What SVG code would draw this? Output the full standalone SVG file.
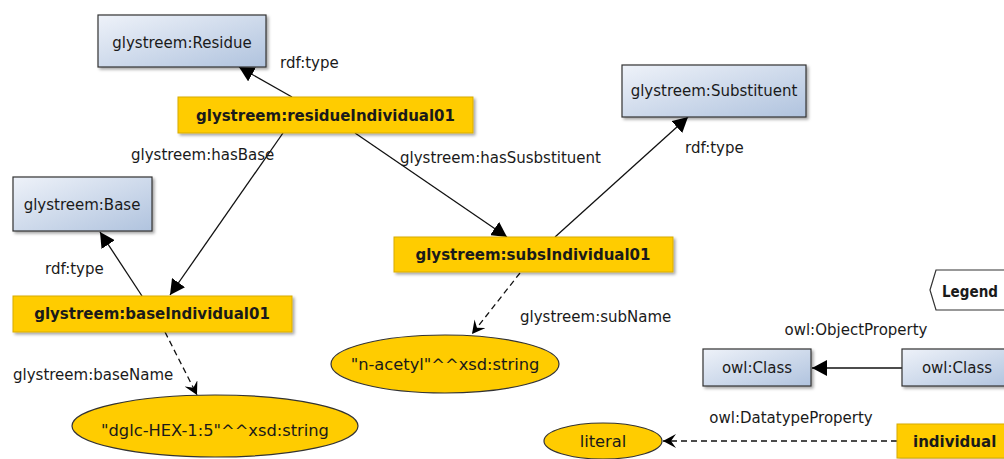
<svg xmlns="http://www.w3.org/2000/svg" width="1004" height="459" viewBox="0 0 1004 459">
<style>
text{font-family:"DejaVu Sans","Liberation Sans",sans-serif;font-size:15px;fill:#1a1a1a}
.b{font-weight:bold}
.m{text-anchor:middle}
.lt{font-size:16.3px}
.cls{fill:url(#cg);stroke:#333;stroke-width:1.2;filter:url(#sh)}
.ind{fill:#FFCC00;stroke:#D8AC00;stroke-width:1;filter:url(#sh)}
.lit{fill:#FFCC00;stroke:#333;stroke-width:1.2}
.e{stroke:#111;stroke-width:1.3;fill:none;marker-end:url(#ah)}
.d{stroke:#111;stroke-width:1.3;fill:none;stroke-dasharray:6 4;marker-end:url(#oh)}
</style>
<defs>
<linearGradient id="cg" x1="0" y1="0" x2="1" y2="1">
<stop offset="0" stop-color="#EEF2F9"/>
<stop offset="1" stop-color="#B0C3DE"/>
</linearGradient>
<filter id="sh" x="-10%" y="-20%" width="130%" height="150%">
<feDropShadow dx="2" dy="2" stdDeviation="1.5" flood-color="#000" flood-opacity="0.35"/>
</filter>
<marker id="ah" markerUnits="userSpaceOnUse" markerWidth="16" markerHeight="16" refX="15" refY="8" orient="auto">
<path d="M0,0 L15,8 L0,16 z" fill="#000"/>
</marker>
<marker id="oh" markerUnits="userSpaceOnUse" markerWidth="14" markerHeight="14" refX="13" refY="7" orient="auto">
<path d="M0,0 L13,7 L0,14 L5,7 z" fill="#000"/>
</marker>
</defs>
<g id="connectors">
<line class="e" x1="292" y1="97" x2="239" y2="67"/>
<line class="e" x1="283" y1="133" x2="170" y2="295"/>
<line class="e" x1="355" y1="133" x2="507" y2="237"/>
<line class="e" x1="555" y1="237" x2="688" y2="117"/>
<line class="e" x1="142" y1="296" x2="100" y2="232"/>
<line class="d" x1="520" y1="273" x2="472" y2="334"/>
<line class="d" x1="165" y1="332" x2="197" y2="395"/>
<line class="e" x1="902" y1="368" x2="812" y2="368"/>
<line class="d" x1="897" y1="441" x2="663" y2="441"/>
<text x="280" y="68">rdf:type</text>
<text x="131" y="160">glystreem:hasBase</text>
<text x="400" y="163">glystreem:hasSusbstituent</text>
<text x="685" y="153">rdf:type</text>
<text x="45" y="274">rdf:type</text>
<text x="520" y="322">glystreem:subName</text>
<text x="13" y="380">glystreem:baseName</text>
<text x="856" y="335" class="m">owl:ObjectProperty</text>
<text x="791" y="423" class="m">owl:DatatypeProperty</text>
</g>
<g id="residue"><rect class="cls" x="98" y="15" width="168" height="52"/><text class="m" x="182" y="48">glystreem:Residue</text></g>
<g id="residueIndividual01"><rect class="ind" x="178" y="97" width="295" height="36"/><text class="b m" x="325.5" y="121">glystreem:residueIndividual01</text></g>
<g id="base"><rect class="cls" x="13" y="177" width="139" height="54"/><text class="m" x="82" y="210">glystreem:Base</text></g>
<g id="baseIndividual01"><rect class="ind" x="13" y="296" width="279" height="36"/><text class="b m" x="152" y="319">glystreem:baseIndividual01</text></g>
<g id="substituent"><rect class="cls" x="622" y="65" width="184" height="52"/><text class="m" x="714" y="96">glystreem:Substituent</text></g>
<g id="subsIndividual01"><rect class="ind" x="394" y="237" width="279" height="35"/><text class="b m" x="533" y="260">glystreem:subsIndividual01</text></g>
<g id="nacetyl"><ellipse class="lit" cx="445" cy="364" rx="114" ry="29"/><text class="m lt" x="445" y="370">"n-acetyl"^^xsd:string</text></g>
<g id="dglc"><ellipse class="lit" cx="215" cy="426" rx="143" ry="31"/><text class="m lt" x="215" y="436">"dglc-HEX-1:5"^^xsd:string</text></g>
<g id="legend"><polygon points="930,290 936,270 1010,270 1010,310 936,310" fill="#fff" stroke="#333" stroke-width="1.2"/><text class="b" x="942" y="297" textLength="56" lengthAdjust="spacingAndGlyphs">Legend</text></g>
<g id="legendClassA"><rect class="cls" x="703" y="349" width="108" height="37"/><text class="m" x="757" y="373">owl:Class</text></g>
<g id="legendClassB"><rect class="cls" x="902" y="349" width="110" height="37"/><text class="m" x="957" y="373">owl:Class</text></g>
<g id="legendLiteral"><ellipse class="lit" cx="603" cy="441" rx="59" ry="18"/><text class="m lt" x="603" y="447">literal</text></g>
<g id="legendIndividual"><rect class="ind" x="897" y="424" width="115" height="34"/><text class="b" x="913" y="447">individual</text></g>
</svg>
